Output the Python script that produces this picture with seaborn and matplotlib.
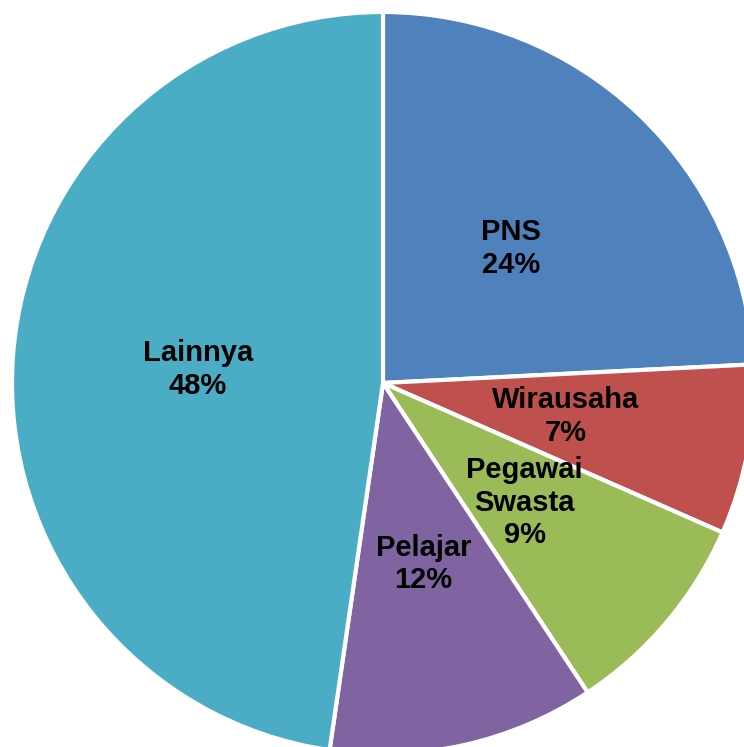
import matplotlib
matplotlib.use("Agg")
import matplotlib.pyplot as plt
import seaborn as sns

sns.set_theme(style="white")
plt.rcParams['font.family'] = ['Liberation Sans', 'DejaVu Sans']

categories = ["PNS", "Wirausaha", "Pegawai\nSwasta", "Pelajar", "Lainnya"]
values = [24.2, 7.4, 9.1, 11.6, 47.7]
pct_labels = ["24%", "7%", "9%", "12%", "48%"]
colors = ["#4F81BD", "#C0504D", "#9BBB59", "#8064A2", "#4BACC6"]

W, H = 744, 747
cx, cy, R = 383, 383, 371

fig = plt.figure(figsize=(W / 100, H / 100), dpi=100)
ax = fig.add_axes([0, 0, 1, 1])
labels = [f"{c}\n{p}" for c, p in zip(categories, pct_labels)]
wedges, texts = ax.pie(values, labels=labels, colors=colors, startangle=90,
                       counterclock=False, labeldistance=0.5,
                       wedgeprops=dict(edgecolor="white", linewidth=3))
for t in texts:
    t.set_ha("center")
    t.set_va("center")
    t.set_fontsize(21)
    t.set_fontweight("bold")
    t.set_color("black")
    t.set_linespacing(1.22)
    t.set_multialignment("center")

ax.set_aspect("auto")
ax.set_xlim(-cx / R, (W - cx) / R)
ax.set_ylim(-(H - cy) / R, cy / R)
ax.axis("off")
fig.savefig("out.png", dpi=100)
